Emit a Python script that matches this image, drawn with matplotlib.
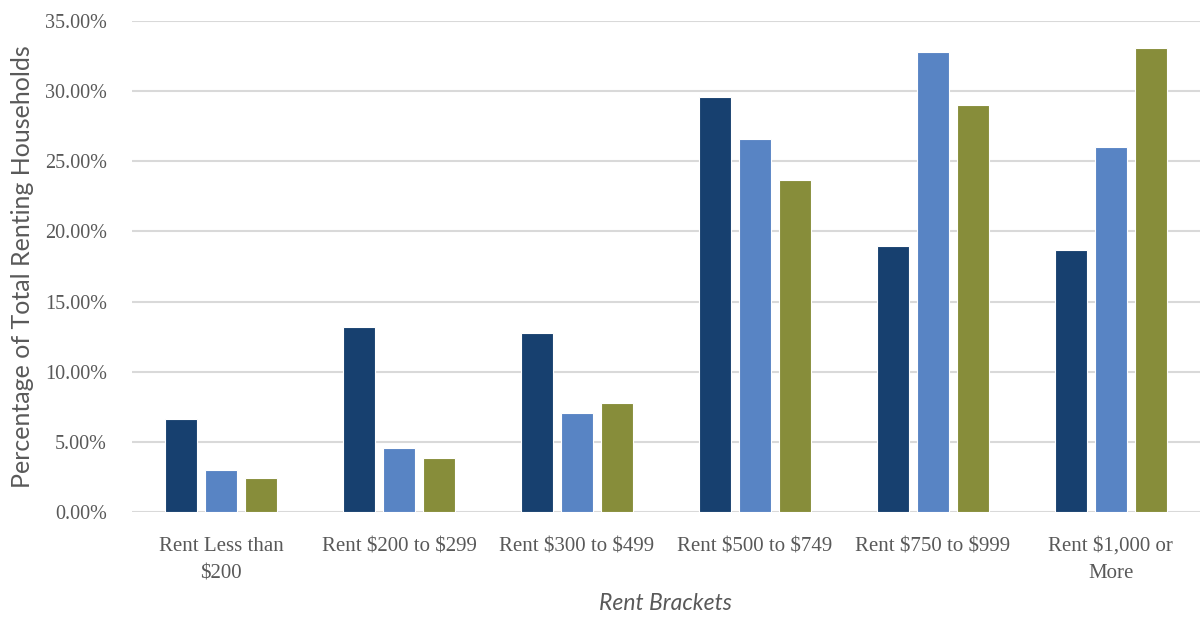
import matplotlib
matplotlib.use("Agg")
import matplotlib.pyplot as plt
import numpy as np
from matplotlib.ticker import FuncFormatter

plt.rcParams["text.parse_math"] = False

categories = ["Rent Less than\n$200", "Rent $200 to $299", "Rent $300 to $499",
              "Rent $500 to $749", "Rent $750 to $999", "Rent $1,000 or\nMore"]
series_a = [6.63, 13.19, 12.76, 29.6, 18.96, 18.67]
series_b = [2.99, 4.56, 7.06, 26.6, 32.8, 26.0]
series_c = [2.42, 3.85, 7.77, 23.7, 28.99, 33.07]
colors = ["#17406F", "#5884C4", "#878D3A"]

fig = plt.figure(figsize=(12.04, 6.21), dpi=100)
ax = fig.add_axes([0.1096, 0.1755, 0.887, 0.7905])

x = np.arange(len(categories))
w = 0.18
step = 0.225
for i, (vals, c) in enumerate(zip([series_a, series_b, series_c], colors)):
    ax.bar(x + (i - 1) * step, vals, width=w, color=c, edgecolor="white", linewidth=0.8, zorder=3)

ax.set_xlim(-0.5, len(categories) - 0.5)
ax.set_ylim(0, 35)
ax.set_yticks(np.arange(0, 35.01, 5))
ax.yaxis.set_major_formatter(FuncFormatter(lambda v, p: f"{v:.2f}%"))
ax.grid(axis="y", color="#d9d9d9", linewidth=1.5, zorder=0)
ax.set_axisbelow(True)
for s in ["top", "right", "left", "bottom"]:
    ax.spines[s].set_visible(False)
ax.tick_params(axis="both", length=0, labelcolor="#595959")
ax.tick_params(axis="y", pad=18, labelsize=14.5)
ax.tick_params(axis="x", pad=18, labelsize=15)
ax.set_xticks(x)
ax.set_xticklabels(categories, linespacing=1.6)
for lab in ax.get_xticklabels() + ax.get_yticklabels():
    lab.set_family("Liberation Serif")

ax.set_ylabel("Percentage of Total Renting Households", fontsize=18, color="#595959",
              family="Lato", labelpad=8)
ax.set_xlabel("Rent Brackets", fontsize=16.5, color="#595959", family="Lato",
              style="italic", labelpad=7)

fig.savefig("out.png", dpi=100)
